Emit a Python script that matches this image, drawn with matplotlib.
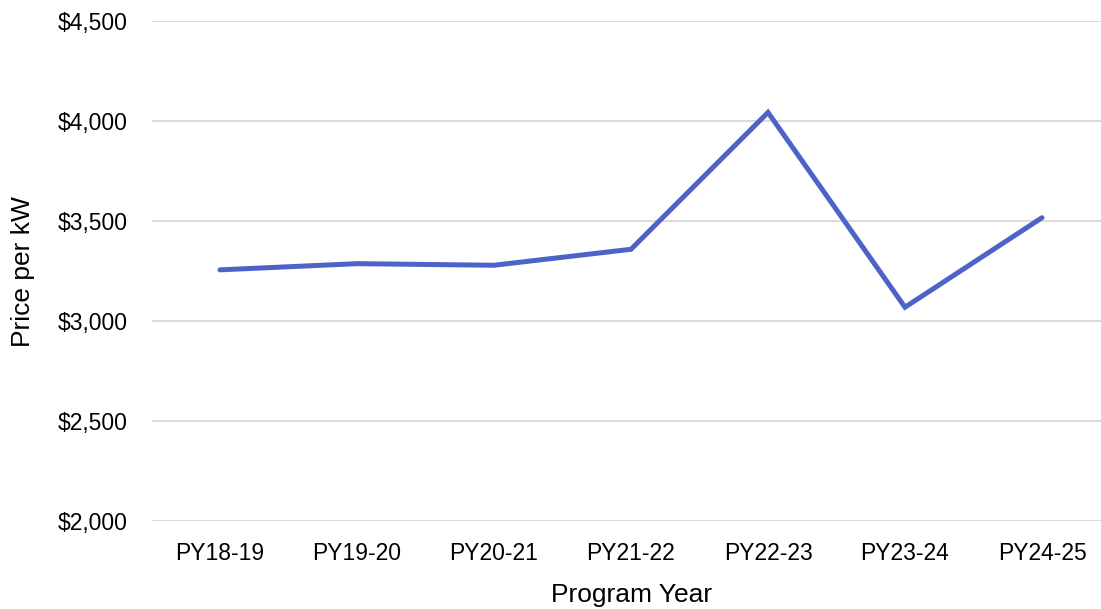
import matplotlib
matplotlib.use("Agg")
import matplotlib.pyplot as plt
from matplotlib.ticker import FuncFormatter

categories = ["PY18-19", "PY19-20", "PY20-21", "PY21-22", "PY22-23", "PY23-24", "PY24-25"]
price_per_kw = [3257, 3288, 3280, 3360, 4045, 3070, 3518]
y_ticks = [2000, 2500, 3000, 3500, 4000, 4500]

plt.rcParams['font.family'] = ['Liberation Sans', 'DejaVu Sans']

W, H = 1101, 609
fig = plt.figure(figsize=(W / 100, H / 100), dpi=100)
left_px, right_px = 151.5, 1110.5
top_px, bottom_px = 21.5, 521
ax = fig.add_axes([left_px / W, 1 - bottom_px / H, (right_px - left_px) / W, (bottom_px - top_px) / H])

x = list(range(len(categories)))
ax.plot(x, price_per_kw, color='#4E63C8', linewidth=3.6, solid_capstyle='round', solid_joinstyle='miter', zorder=3)

ax.set_xlim(-0.5, len(categories) - 0.5)
ax.set_ylim(2000, 4500)
ax.set_yticks(y_ticks)
ax.yaxis.set_major_formatter(FuncFormatter(lambda v, p: f"${v:,.0f}"))
ax.set_xticks(x)
ax.set_xticklabels(categories)

ax.grid(axis='y', color='#DADADA', linewidth=1.4, zorder=0)
ax.set_axisbelow(True)
for s in ax.spines.values():
    s.set_visible(False)
ax.tick_params(axis='both', length=0, labelsize=16.5, colors='#000000')
ax.tick_params(axis='y', pad=17)
ax.tick_params(axis='x', pad=15)

ax.set_ylabel("Price per kW", fontsize=19, labelpad=0)
ax.yaxis.set_label_coords(-(left_px - 23) / (right_px - left_px), 0.5)
ax.set_xlabel("Program Year", fontsize=19)
ax.xaxis.set_label_coords((632 - left_px) / (right_px - left_px), -(595 - bottom_px) / (bottom_px - top_px))
ax.xaxis.label.set_va('center')
ax.yaxis.label.set_va('center')

fig.savefig("out.png", dpi=100)
